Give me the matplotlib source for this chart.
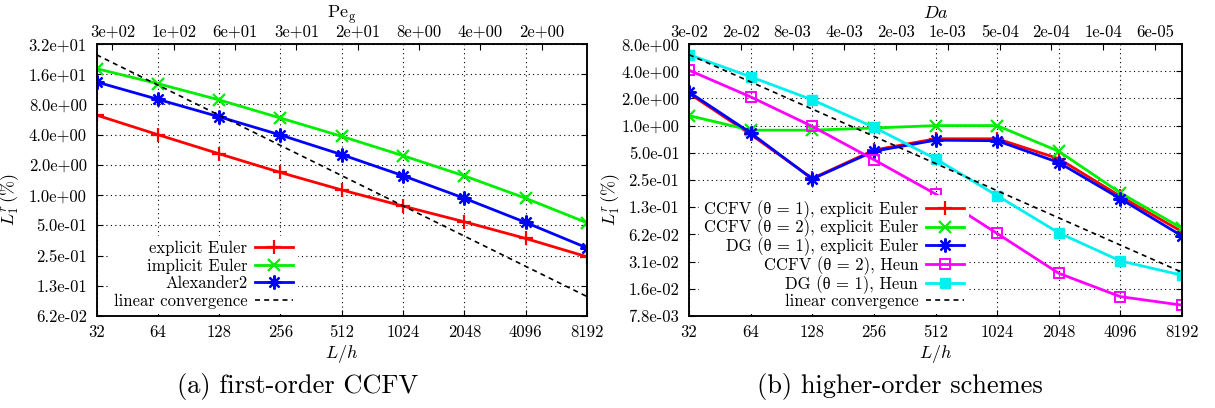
import matplotlib
matplotlib.use('Agg')
import matplotlib.pyplot as plt
import numpy as np
from matplotlib.ticker import FixedLocator, NullLocator, FixedFormatter
from matplotlib.font_manager import FontProperties

plt.rcParams['font.family'] = 'cmr10'
plt.rcParams['mathtext.fontset'] = 'cm'
plt.rcParams['axes.formatter.use_mathtext'] = True
plt.rcParams['axes.unicode_minus'] = False

# ---------------- data ----------------
Lh = [32, 64, 128, 256, 512, 1024, 2048, 4096, 8192]
x_ticklabels = ['32', '64', '128', '256', '512', '1024', '2048', '4096', '8192']

# (a) first-order CCFV
a_explicit = [6.27, 4.0, 2.58, 1.68, 1.125, 0.777, 0.542, 0.370, 0.243]
a_implicit = [18.2, 12.9, 8.88, 5.86, 3.85, 2.47, 1.555, 0.93, 0.53]
a_alex = [13.4, 9.0, 6.03, 3.97, 2.53, 1.56, 0.93, 0.534, 0.298]
a_linear_const = 800.0
a_yticklabels = ['6.2e-02', '1.3e-01', '2.5e-01', '5.0e-01', '1.0e+00',
                 '2.0e+00', '4.0e+00', '8.0e+00', '1.6e+01', '3.2e+01']
a_top_labels = ['3e+02', '1e+02', '6e+01', '3e+01', '2e+01', '8e+00', '4e+00', '2e+00']

# (b) higher-order schemes
b_ccfv1_ee = [2.27, 0.80, 0.26, 0.535, 0.715, 0.715, 0.43, 0.165, 0.067]
b_ccfv2_ee = [1.29, 0.89, 0.89, 0.94, 1.0, 1.0, 0.52, 0.18, 0.073]
b_dg1_ee = [2.35, 0.83, 0.257, 0.52, 0.69, 0.68, 0.39, 0.155, 0.060]
b_ccfv2_heun = [4.1, 2.08, 0.98, 0.42, 0.175, 0.064, 0.0232, 0.0128, 0.0103]
b_dg1_heun = [6.1, 3.47, 1.93, 0.96, 0.43, 0.168, 0.065, 0.0318, 0.0221]
b_linear_const = 195.0
b_yticklabels = ['7.8e-03', '1.6e-02', '3.1e-02', '6.2e-02', '1.3e-01', '2.5e-01',
                 '5.0e-01', '1.0e+00', '2.0e+00', '4.0e+00', '8.0e+00']
b_top_labels = ['3e-02', '2e-02', '8e-03', '4e-03', '2e-03', '1e-03',
                '5e-04', '2e-04', '1e-04', '6e-05']

# ---------------- style ----------------
RED, GREEN, BLUE, MAG, CYAN = '#ff0000', '#00ee00', '#0000ff', '#ff00ff', '#00f0f0'
LW = 2.0
TICK_FS = 12
LAB_FS = 13
ASTER = (8, 2, 0)

fig = plt.figure(figsize=(12.15, 4.08), dpi=100)
W, H = 1215.0, 408.0


def make_axes(x0, x1, y0=44.0, y1=316.0):
    return fig.add_axes([x0 / W, 1 - y1 / H, (x1 - x0) / W, (y1 - y0) / H])


def style_axes(ax, ylo_exp, yhi_exp, ylabels, top_pos, top_labels, top_title):
    ax.set_xscale('log', base=2)
    ax.set_yscale('log', base=2)
    ax.set_xlim(Lh[0], Lh[-1])
    ax.set_ylim(2.0 ** ylo_exp, 2.0 ** yhi_exp)
    ax.xaxis.set_major_locator(FixedLocator(Lh))
    ax.xaxis.set_major_formatter(FixedFormatter(x_ticklabels))
    yt = [2.0 ** k for k in range(ylo_exp, yhi_exp + 1)]
    ax.yaxis.set_major_locator(FixedLocator(yt))
    ax.yaxis.set_major_formatter(FixedFormatter(ylabels))
    ax.xaxis.set_minor_locator(NullLocator())
    ax.yaxis.set_minor_locator(NullLocator())
    ax.tick_params(axis='both', which='major', direction='in', length=4, width=0.8,
                   labelsize=TICK_FS, top=False, right=True)
    ax.tick_params(axis='x', pad=6)
    ax.tick_params(axis='y', pad=7)
    ax.grid(True, which='major', color='black', linestyle=(0, (1, 3)), linewidth=0.8)
    ax.set_axisbelow(True)
    for s in ax.spines.values():
        s.set_linewidth(1.1)
    ax.set_xlabel(r'$L/h$', fontsize=LAB_FS)
    ax.set_ylabel(r'$L_1^r\,(\%)$', fontsize=LAB_FS)

    ax2 = ax.twiny()
    ax2.set_xscale('log', base=2)
    ax2.set_xlim(ax.get_xlim())
    ax2.xaxis.set_major_locator(FixedLocator(top_pos))
    ax2.xaxis.set_major_formatter(FixedFormatter(top_labels))
    ax2.xaxis.set_minor_locator(NullLocator())
    ax2.tick_params(axis='x', direction='in', length=4, width=0.8, labelsize=TICK_FS, pad=3)
    ax2.set_xlabel(top_title, fontsize=LAB_FS, labelpad=5)
    for s in ax2.spines.values():
        s.set_linewidth(1.1)
    return ax2


LEG_PROP = FontProperties(family=['cmr10', 'Liberation Serif'], size=TICK_FS)


def white_legend(ax, anchor, spacing):
    leg = ax.legend(loc='lower right', bbox_to_anchor=anchor, markerfirst=False,
                    prop=LEG_PROP, handlelength=2.3, handletextpad=0.45,
                    labelspacing=spacing, borderpad=0.3, borderaxespad=0.0,
                    frameon=True, fancybox=False, framealpha=1.0)
    leg.get_frame().set_edgecolor('none')
    leg.get_frame().set_facecolor('white')
    leg.set_zorder(10)
    return leg


# ---------------- (a) ----------------
axa = make_axes(96.5, 587.0)
top_a = [Lh[0] * 2.0 ** (0.26 + k) for k in range(len(a_top_labels))]
style_axes(axa, -4, 5, a_yticklabels, top_a, a_top_labels, r'Pe$_{\mathrm{g}}$')

lin_a = [a_linear_const / v for v in Lh]
axa.plot(Lh, a_explicit, color=RED, lw=LW, marker='+', ms=10, mew=1.6, label='explicit Euler')
axa.plot(Lh, a_implicit, color=GREEN, lw=LW, marker='x', ms=8, mew=1.6, label='implicit Euler')
axa.plot(Lh, a_alex, color=BLUE, lw=LW, marker=ASTER, ms=10, mew=1.6, label='Alexander2')
axa.plot(Lh, lin_a, color='black', lw=1.2, linestyle=(0, (3, 2.5)), label='linear convergence')
axa.xaxis.set_label_coords(0.5, -0.10)
axa.yaxis.set_label_coords(-0.153, 0.43)
white_legend(axa, (0.411, 0.008), 0.14)

# ---------------- (b) ----------------
axb = make_axes(689.0, 1182.0)
top_b = [Lh[0] * 2.0 ** (0.84 * k) for k in range(len(b_top_labels))]
style_axes(axb, -7, 3, b_yticklabels, top_b, b_top_labels, r'$Da$')

lin_b = [b_linear_const / v for v in Lh]
axb.plot(Lh, b_ccfv1_ee, color=RED, lw=LW, marker='+', ms=10, mew=1.6,
         label='CCFV (θ = 1), explicit Euler')
axb.plot(Lh, b_ccfv2_ee, color=GREEN, lw=LW, marker='x', ms=8, mew=1.6,
         label='CCFV (θ = 2), explicit Euler')
axb.plot(Lh, b_dg1_ee, color=BLUE, lw=LW, marker=ASTER, ms=10, mew=1.6,
         label='DG (θ = 1), explicit Euler')
axb.plot(Lh, b_ccfv2_heun, color=MAG, lw=LW, marker='s', ms=6.5, mew=1.4, mfc='none',
         label='CCFV (θ = 2), Heun')
axb.plot(Lh, b_dg1_heun, color=CYAN, lw=LW, marker='s', ms=7, mew=1.0,
         label='DG (θ = 1), Heun')
axb.plot(Lh, lin_b, color='black', lw=1.2, linestyle=(0, (3, 2.5)), label='linear convergence')
axb.xaxis.set_label_coords(0.5, -0.10)
axb.yaxis.set_label_coords(-0.136, 0.43)
white_legend(axb, (0.568, 0.008), 0.0)

# ---------------- captions ----------------
fig.text(298 / W, 1 - 386 / H, '(a) first-order CCFV', fontsize=19, ha='center', va='center')
fig.text(900 / W, 1 - 386 / H, '(b) higher-order schemes', fontsize=19, ha='center', va='center')

fig.savefig('out.png', dpi=100)
